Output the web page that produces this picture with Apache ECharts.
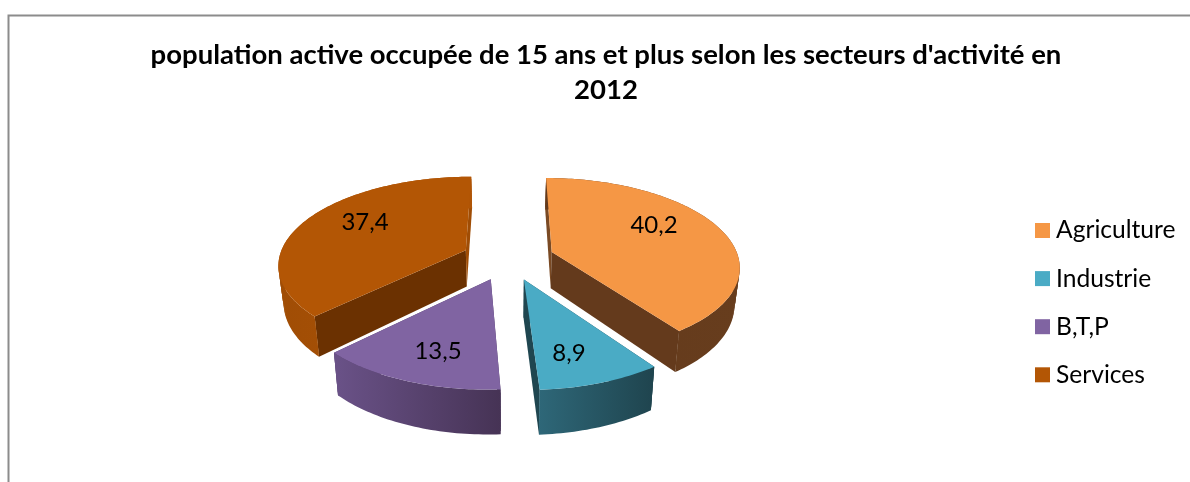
<!DOCTYPE html>
<html>
<head>
<meta charset="utf-8">
<title>population active</title>
<script src="https://cdn.jsdelivr.net/npm/echarts@6/dist/echarts.min.js"></script>
<style>
  html, body { margin: 0; padding: 0; background: #fff; }
  #chart { width: 1190px; height: 482px; }
</style>
</head>
<body>
<div id="chart"></div>
<script>
const titleText = "population active occupée de 15 ans et plus selon les secteurs d'activité en\n2012"
const categories = ['Agriculture', 'Industrie', 'B,T,P', 'Services']
const values = [40.2, 8.9, 13.5, 37.4]
const valueLabels = ['40,2', '8,9', '13,5', '37,4']

const topColors = ['#F59745', '#4AABC5', '#8064A2', '#B35605']
// side faces at the start and at the end of each slice (clockwise)
const startFaceColors = ['#7A4A24', '#1F4650', '#4A3760', '#6B3101']
const endFaceColors = ['#643A1C', '#1F4650', '#4A3760', '#A04D05']
const wallStops = [
  ['#643A1C', '#673D1D'],
  ['#2E6778', '#1F444E'],
  ['#6A5288', '#463355'],
  ['#A04D05', '#B05506']
]
const labelAt = [[654, 225], [569, 353], [438, 351], [365, 222]]

// camera fitted on the reference: top plane of the pie seen with perspective
const VP_X = 508, VP_Y = -323, PLANE = 581.5, TILT = 0.1494, RADIUS = 187
const EXPLODE = 0.248, DEPTH_Y = 1.063, DEPTH_X = 0.977
const WALL_LEVELS = 14

const total = values.reduce((a, b) => a + b, 0)

// level goes from 0 (top plane) to 1 (bottom plane)
function project(x, z, level) {
  const w = 1 - TILT * z
  const sx = x * RADIUS / w
  const sy = PLANE / w
  return [
    VP_X + sx * (1 + (DEPTH_X - 1) * level),
    VP_Y + sy * (1 + (DEPTH_Y - 1) * level)
  ]
}

function sliceGeometry(idx) {
  const before = values.slice(0, idx).reduce((a, b) => a + b, 0)
  const a0 = before / total * Math.PI * 2
  const a1 = (before + values[idx]) / total * Math.PI * 2
  const mid = (a0 + a1) / 2
  const ox = Math.sin(mid) * EXPLODE
  const oz = -Math.cos(mid) * EXPLODE
  const arc = level => {
    const pts = []
    const n = Math.ceil((a1 - a0) / 0.02)
    for (let i = 0; i <= n; i++) {
      const t = a0 + (a1 - a0) * i / n
      pts.push(project(ox + Math.sin(t), oz - Math.cos(t), level))
    }
    return pts
  }
  return { apex: project(ox, oz, 0), apexLow: project(ox, oz, 1), arc }
}

function renderSlice(idx) {
  return function () {
    const g = sliceGeometry(idx)
    const top = g.arc(0), low = g.arc(1)
    const first = top[0], last = top[top.length - 1]
    const firstLow = low[0], lastLow = low[low.length - 1]
    const poly = (points, fill) => ({
      type: 'polygon',
      shape: { points },
      style: { fill, stroke: null }
    })
    const xs = top.map(p => p[0])
    const wallFill = new echarts.graphic.LinearGradient(Math.min(...xs), 0, Math.max(...xs), 0, [
      { offset: 0, color: wallStops[idx][0] },
      { offset: 1, color: wallStops[idx][1] }
    ], true)
    // overlapping bands between depth levels keep the silhouette smooth at the extremes
    const wall = []
    for (let k = 0; k < WALL_LEVELS - 1; k++) {
      const upper = g.arc(k / WALL_LEVELS)
      const lower = g.arc((k + 2) / WALL_LEVELS)
      wall.push(poly(upper.concat(lower.reverse()), wallFill))
    }
    return {
      type: 'group',
      children: [
        poly([g.apex, first, firstLow, g.apexLow], startFaceColors[idx]),
        poly([g.apex, last, lastLow, g.apexLow], endFaceColors[idx]),
        ...wall,
        poly([g.apex].concat(top), topColors[idx]),
        {
          type: 'text',
          style: {
            text: valueLabels[idx],
            x: labelAt[idx][0],
            y: labelAt[idx][1],
            align: 'center',
            verticalAlign: 'middle',
            fill: '#000',
            font: '24px Lato'
          }
        }
      ]
    }
  }
}

const chart = echarts.init(document.getElementById('chart'), null, { renderer: 'canvas' })
chart.setOption({
  animation: false,
  title: {
    text: titleText,
    left: 601,
    top: 33,
    textAlign: 'center',
    textStyle: { fontFamily: 'Lato', fontWeight: 'bold', fontSize: 27.5, lineHeight: 35, color: '#000' }
  },
  legend: {
    orient: 'vertical',
    left: 1030,
    top: 213,
    icon: 'rect',
    itemWidth: 15,
    itemHeight: 15,
    itemGap: 23.1,
    data: categories,
    selectedMode: false,
    textStyle: { fontFamily: 'Lato', fontSize: 24.6, lineHeight: 22, color: '#000', padding: [0, 0, 0, 1] }
  },
  graphic: [{
    type: 'polyline',
    silent: true,
    shape: { points: [[8.5, 482], [8.5, 15.5], [1190, 15.5]] },
    style: { stroke: '#8C8C8C', lineWidth: 2, fill: null }
  }],
  series: categories.map((name, idx) => ({
    type: 'custom',
    name,
    coordinateSystem: 'none',
    // back slices first so the front ones sit over them
    z: idx === 1 || idx === 2 ? 3 : 2,
    silent: true,
    itemStyle: { color: topColors[idx] },
    renderItem: renderSlice(idx),
    data: [values[idx]]
  }))
})
</script>
</body>
</html>
